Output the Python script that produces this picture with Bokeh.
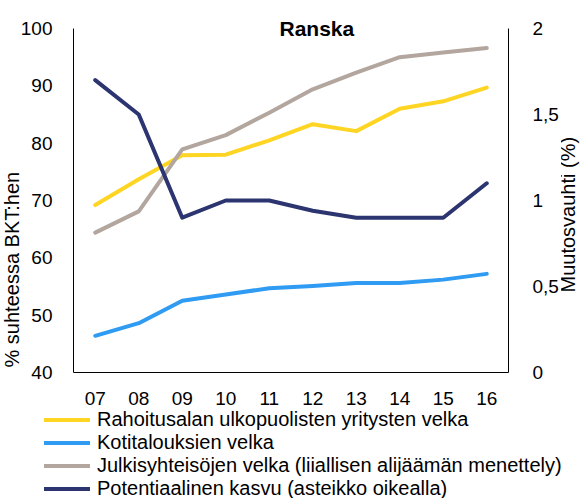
from bokeh.plotting import figure
from bokeh.layouts import row
from bokeh.models import (Range1d, FactorRange, LinearAxis, FixedTicker,
                          CustomJSTickFormatter, Legend, LegendItem, Title)
from bokeh.embed import file_html
from bokeh.resources import INLINE

# ---- data ----
years = ["07", "08", "09", "10", "11", "12", "13", "14", "15", "16"]
yritykset = [69.2, 73.7, 77.9, 78.0, 80.5, 83.3, 82.1, 86.0, 87.3, 89.7]
kotitaloudet = [46.4, 48.6, 52.5, 53.6, 54.7, 55.1, 55.6, 55.6, 56.2, 57.2]
julkinen = [64.4, 68.1, 78.9, 81.4, 85.3, 89.4, 92.3, 95.0, 95.8, 96.6]
potentiaalinen = [1.70, 1.50, 0.90, 1.00, 1.00, 0.94, 0.90, 0.90, 0.90, 1.10]
left_ticks = [40, 50, 60, 70, 80, 90, 100]
right_ticks = [0, 0.5, 1, 1.5, 2]
names = [
    "Rahoitusalan ulkopuolisten yritysten velka",
    "Kotitalouksien velka",
    "Julkisyhteisöjen velka (liiallisen alijäämän menettely)",
    "Potentiaalinen kasvu (asteikko oikealla)",
]
colors = ["#FFD524", "#2F9BF2", "#B2A69E", "#2C3570"]
title_text = "Ranska"
left_label = "% suhteessa BKT:hen"
right_label = "Muutosvauhti  (%)"

FONT = "Liberation Sans"

p = figure(width=561, height=407,
           x_range=FactorRange(*years, range_padding=0),
           y_range=Range1d(40, 100),
           output_backend="svg", toolbar_location=None,
           min_border_left=73, min_border_right=48,
           min_border_top=28, min_border_bottom=35,
           outline_line_color=None)
p.extra_y_ranges = {"right": Range1d(0, 2)}
p.xgrid.visible = False
p.ygrid.visible = False

p.title = Title(text=title_text, align="left", offset=206, standoff=-22,
                text_font=FONT, text_font_style="bold", text_font_size="21px",
                text_color="black")

# left axis
ya = p.yaxis[0]
ya.ticker = FixedTicker(ticks=left_ticks)
ya.major_tick_line_color = None
ya.minor_tick_line_color = None
ya.axis_line_color = "black"
ya.major_label_text_font = FONT
ya.major_label_text_font_size = "19px"
ya.major_label_text_color = "black"
ya.major_label_standoff = 15

# bottom axis
xa = p.xaxis[0]
xa.major_tick_line_color = None
xa.minor_tick_line_color = None
xa.axis_line_color = "black"
xa.major_label_text_font = FONT
xa.major_label_text_font_size = "19px"
xa.major_label_text_color = "black"
xa.major_label_standoff = 13

# right axis (ticks)
ra = LinearAxis(y_range_name="right", ticker=FixedTicker(ticks=right_ticks),
                formatter=CustomJSTickFormatter(code="return tick.toString().replace('.', ',');"))
ra.major_tick_line_color = None
ra.minor_tick_line_color = None
ra.axis_line_color = "black"
ra.major_label_text_font = FONT
ra.major_label_text_font_size = "19px"
ra.major_label_text_color = "black"
ra.major_label_standoff = 18
p.add_layout(ra, "right")

# left axis title (outside the tick labels)
p.add_layout(Title(text=left_label, align="left", offset=5, standoff=-11,
                   text_font=FONT, text_font_size="20px", text_font_style="normal",
                   text_color="black"), "left")

series = [yritykset, kotitaloudet, julkinen, potentiaalinen]
for i, (vals, col) in enumerate(zip(series, colors)):
    kw = {"y_range_name": "right"} if i == 3 else {}
    p.line(years, vals, line_color=col, line_width=4,
           line_cap="round", line_join="round", **kw)

# ---- narrow strip at the right carrying the right-axis title (reads bottom-to-top) ----
p3 = figure(width=20, height=407,
            x_range=Range1d(0, 1), y_range=Range1d(0, 2),
            output_backend="svg", toolbar_location=None,
            x_axis_location=None, y_axis_location=None,
            min_border_left=0, min_border_right=0,
            min_border_top=28, min_border_bottom=35,
            outline_line_color=None)
p3.xgrid.visible = False
p3.ygrid.visible = False
p3.add_layout(Title(text=right_label, align="left", offset=80, standoff=-14,
                    text_font=FONT, text_font_size="20px", text_font_style="normal",
                    text_color="black"), "left")

# ---- legend strip below the chart (separate root, same series) ----
p2 = figure(width=581, height=91,
            x_range=FactorRange(*years, range_padding=0), y_range=Range1d(0, 1),
            output_backend="svg", toolbar_location=None,
            x_axis_location=None, y_axis_location=None,
            min_border=0, outline_line_color=None)
p2.xgrid.visible = False
p2.ygrid.visible = False
leg_renderers = [p2.line(years, vals, line_color=c, line_width=4, line_cap="round", visible=False)
                 for vals, c in zip(series, colors)]
legend = Legend(items=[LegendItem(label=n, renderers=[r]) for n, r in zip(names, leg_renderers)],
                location=(44, -2), orientation="vertical",
                glyph_width=46, glyph_height=23, label_height=23,
                spacing=0, padding=0, margin=0, label_standoff=7,
                border_line_color=None, background_fill_alpha=0,
                label_text_font=FONT, label_text_font_size="20px",
                label_text_color="black")
p2.add_layout(legend)

open("out.html", "w").write(file_html([row(p, p3, spacing=0), p2], INLINE))
